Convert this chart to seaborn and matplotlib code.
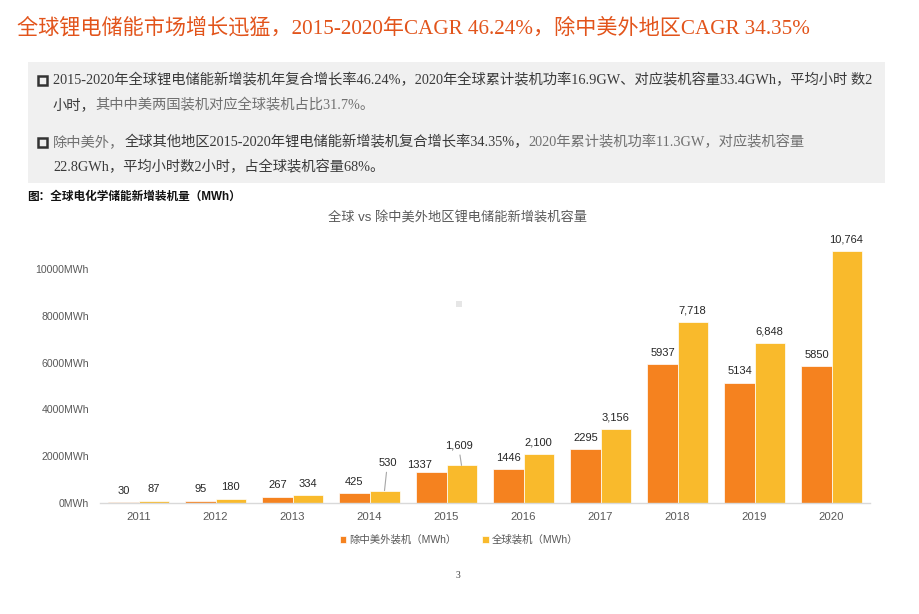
import pandas as pd
import numpy as np
from matplotlib import pyplot as plt
from matplotlib.patches import Rectangle
import seaborn as sns

# data
years = ['2011', '2012', '2013', '2014', '2015', '2016', '2017', '2018', '2019', '2020']
ex_cn_us = [30, 95, 267, 425, 1337, 1446, 2295, 5937, 5134, 5850]
world = [87, 180, 334, 530, 1609, 2100, 3156, 7718, 6848, 10764]
series_names = ['除中美外装机（MWh）', '全球装机（MWh）']
y_ticks = [0, 2000, 4000, 6000, 8000, 10000]

df = pd.DataFrame({
    'year': years * 2,
    'series': [series_names[0]] * len(years) + [series_names[1]] * len(years),
    'value': ex_cn_us + world,
})

sns.set_theme()
sns.set_style("white")
plt.rcParams['font.family'] = ['Liberation Sans', 'Noto Sans CJK SC']

W, H = 920, 614
fig = plt.figure(figsize=(W / 100, H / 100), dpi=100)

def fx(x):
    return x / W

def fy(y):
    return 1 - y / H

serif_cjk = ['Liberation Serif', 'Noto Sans CJK SC']

# slide title
fig.text(fx(17), fy(28), '全球锂电储能市场增长迅猛，2015-2020年CAGR 46.24%，除中美外地区CAGR 34.35%',
         family=serif_cjk, fontsize=15.2, color='#E2541B', va='center', ha='left')

# grey text box
fig.patches.append(Rectangle((fx(28), fy(183)), fx(885) - fx(28), fy(62) - fy(183),
                             transform=fig.transFigure, facecolor='#F0F0F0', edgecolor='none', zorder=0))

dark, light = '#3A3A3A', '#707070'
lines = [
    (80, [('2015-2020年全球锂电储能新增装机年复合增长率46.24%，2020年全球累计装机功率16.9GW、对应装机容量33.4GWh，平均小时 数2', dark)], True),
    (105, [('小时，', dark), ('其中中美两国装机对应全球装机占比31.7%。', light)], False),
    (142, [('除中美外，', light), ('全球其他地区2015-2020年锂电储能新增装机复合增长率34.35%，', dark),
           ('2020年累计装机功率11.3GW，对应装机容量', light)], True),
    (167, [('22.8GWh，平均小时数2小时，占全球装机容量68%。', dark)], False),
]
chain = []
for y, parts, bullet in lines:
    if bullet:
        fig.patches.append(Rectangle((fx(38), fy(y + 4.5)), fx(9), 9 / H, transform=fig.transFigure,
                                     facecolor='none', edgecolor='#333333', linewidth=1.8))
    prev = fig.text(fx(53), fy(y), parts[0][0], family=serif_cjk, fontsize=10.3,
                    color=parts[0][1], va='center', ha='left')
    for txt, col in parts[1:]:
        t = fig.text(fx(53), fy(y), txt, family=serif_cjk, fontsize=10.3, color=col, va='center', ha='left')
        chain.append((prev, t))
        prev = t

fig.text(fx(27), fy(197), '图：全球电化学储能新增装机量（MWh）', fontsize=8.4, fontweight='bold',
         color='#111111', va='center', ha='left')
fig.text(fx(458), fy(218), '全球 vs 除中美外地区锂电储能新增装机容量', fontsize=9.5,
         color='#595959', va='center', ha='center')

# chart
ax = fig.add_axes([fx(100), fy(503), fx(870) - fx(100), fy(503 - 257.4) - fy(503)])
sns.barplot(data=df, x='year', y='value', hue='series', hue_order=series_names,
            palette=['#F5821F', '#F9BA2C'], width=0.78, edgecolor='white', linewidth=0.5,
            ax=ax, saturation=1)
ax.set_ylim(0, 11000)
ax.set_yticks(y_ticks)
ax.set_yticklabels([f'{v}MWh' for v in y_ticks])
ax.set_xlabel('')
ax.set_ylabel('')
ax.tick_params(axis='y', length=0, pad=8, labelsize=7.6, labelcolor='#595959')
ax.tick_params(axis='x', length=0, pad=6.5, labelsize=8.2, labelcolor='#595959')
for s in ['top', 'right', 'left']:
    ax.spines[s].set_visible(False)
ax.spines['bottom'].set_color('#D9D9D9')
ax.spines['bottom'].set_linewidth(1)

# value labels; a few are nudged like in the reference
special = {(0, '2015'): (-12, 7, False), (1, '2014'): (3, 28, True), (1, '2015'): (-3, 20, True)}
for si, cont in enumerate(ax.containers):
    for bar, yr in zip(cont, years):
        v = bar.get_height()
        txt = f'{int(v)}' if si == 0 else f'{int(v):,}'
        dx, dy, line = special.get((si, yr), (0, 11.5, False))
        kw = {}
        if line:
            kw['arrowprops'] = dict(arrowstyle='-', color='#A6A6A6', lw=0.8, shrinkA=1, shrinkB=0)
        ax.annotate(txt, xy=(bar.get_x() + bar.get_width() / 2, v), xytext=(dx, dy),
                    textcoords='offset pixels', ha='center', va='center', fontsize=8,
                    color='#262626', **kw)

handles, labels = ax.get_legend_handles_labels()
ax.legend(handles, labels, loc='center', bbox_to_anchor=(fx(459), fy(540)), bbox_transform=fig.transFigure,
          ncol=2, frameon=False, fontsize=7.5, labelcolor='#595959', handlelength=0.6, handleheight=0.6,
          handletextpad=0.3, columnspacing=2.5)

# stray grey square and page number
fig.patches.append(Rectangle((fx(456), fy(307)), fx(6), 6 / H, transform=fig.transFigure,
                             facecolor='#E6E6E6', edgecolor='none'))
fig.text(fx(458), fy(576), '3', family=['Liberation Serif'], fontsize=7, color='#404040',
         va='center', ha='center')

# place multi-colour text segments one after the other
fig.canvas.draw()
r = fig.canvas.get_renderer()
for prevt, t in chain:
    bb = prevt.get_window_extent(r)
    t.set_position((bb.x1 / fig.bbox.width, prevt.get_position()[1]))

fig.savefig('out.png', dpi=100)
